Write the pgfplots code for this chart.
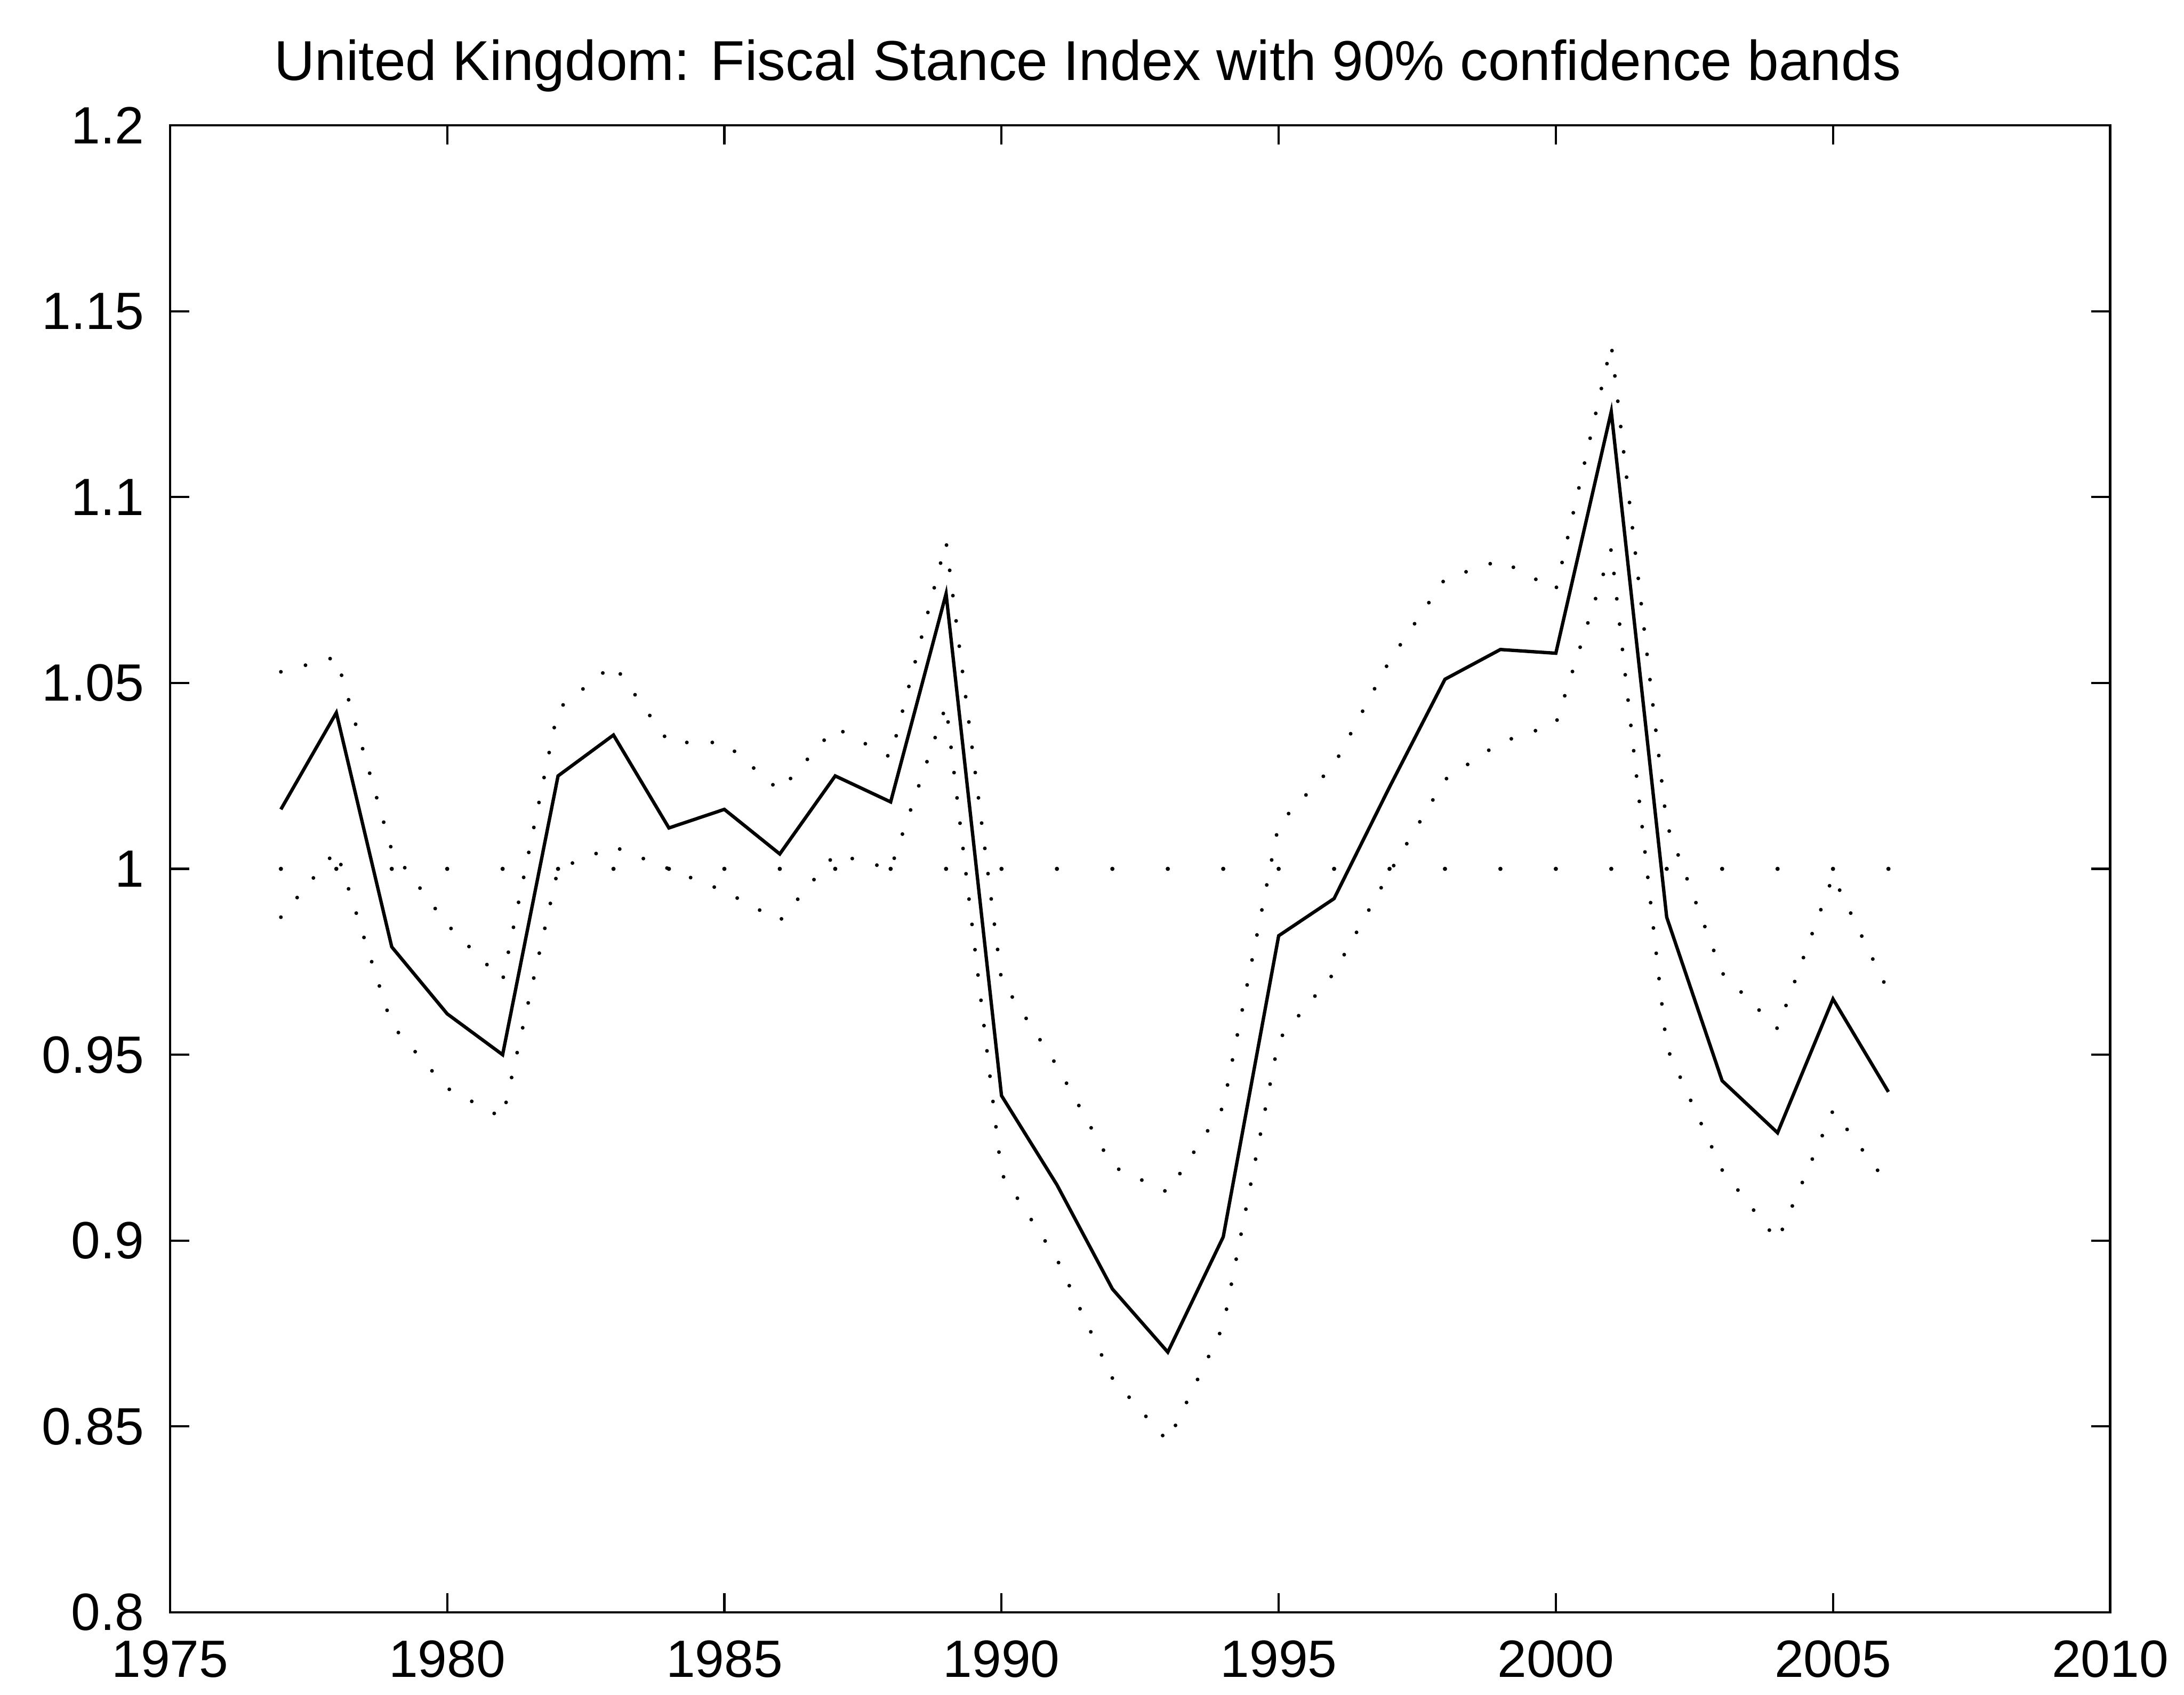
\documentclass[border=0pt]{standalone}
\usepackage{pgfplots}
\pgfplotsset{compat=1.18}
\usepackage{pgfplotstable}
\usepackage{fontspec}
\setmainfont{Liberation Sans}
\pgfplotstableread{
year  fsi    upper  lower
1977  1.016  1.053  0.987
1978  1.042  1.057  1.005
1979  0.979  1.005  0.958
1980  0.961  0.985  0.941
1981  0.950  0.970  0.933
1982  1.025  1.043  1.000
1983  1.036  1.055  1.006
1984  1.011  1.034  1.000
1985  1.016  1.034  0.994
1986  1.004  1.021  0.986
1987  1.025  1.038  1.004
1988  1.018  1.030  1.000
1989  1.074  1.088  1.044
1990  0.939  0.970  0.918
1991  0.915  0.947  0.895
1992  0.887  0.920  0.863
1993  0.870  0.913  0.846
1994  0.901  0.936  0.877
1995  0.982  1.012  0.954
1996  0.992  1.028  0.972
1997  1.022  1.056  0.999
1998  1.051  1.078  1.024
1999  1.059  1.083  1.034
2000  1.058  1.075  1.039
2001  1.123  1.141  1.086
2002  0.987  1.012  0.952
2003  0.943  0.972  0.919
2004  0.929  0.957  0.900
2005  0.965  0.998  0.935
2006  0.940  0.967  0.915
}\datatable
\pgfplotstableread{
year one
1977 1
1978 1
1979 1
1980 1
1981 1
1982 1
1983 1
1984 1
1985 1
1986 1
1987 1
1988 1
1989 1
1990 1
1991 1
1992 1
1993 1
1994 1
1995 1
1996 1
1997 1
1998 1
1999 1
2000 1
2001 1
2002 1
2003 1
2004 1
2005 1
2006 1
}\onetable
\begin{document}
\begin{tikzpicture}
\begin{axis}[
  name=ax,
  scale only axis,
  width=18.2cm, height=13.95cm,
  xmin=1975, xmax=2010, ymin=0.8, ymax=1.2,
  xtick={1975,1980,1985,1990,1995,2000,2005,2010},
  xticklabels={1975,1980,1985,1990,1995,2000,2005,2010},
  ytick={0.8,0.85,0.9,0.95,1,1.05,1.1,1.15,1.2},
  yticklabels={0.8,0.85,0.9,0.95,1,1.05,1.1,1.15,1.2},
  tick align=inside,
  major tick length=0.18cm,
  tick style={black, line width=0.6pt},
  axis line style={black, line width=0.6pt},
  ticklabel style={font=\fontsize{14}{16}\selectfont},
  yticklabel style={xshift=-0.12cm},
  xticklabel style={yshift=-0.14cm},
  title={United Kingdom: Fiscal Stance Index with 90\% confidence bands},
  title style={font=\fontsize{15}{18}\selectfont, at={(0.473,1)}, anchor=south, yshift=-0.02cm},
  clip=false,
]
\addplot[black, line width=0.9pt] table[x=year, y=fsi] {\datatable};
\addplot[black, line width=1pt, line cap=round, dash pattern=on 0pt off 6.8pt] table[x=year, y=upper] {\datatable};
\addplot[black, line width=1pt, line cap=round, dash pattern=on 0pt off 6.8pt] table[x=year, y=lower] {\datatable};
\addplot[black, only marks, mark=*, mark size=0.35pt] table[x=year, y=one] {\onetable};
\end{axis}
\path ([shift={(-1.595cm,-0.771cm)}]ax.south west) rectangle ([shift={(0.693cm,1.176cm)}]ax.north east);
\end{tikzpicture}
\end{document}
